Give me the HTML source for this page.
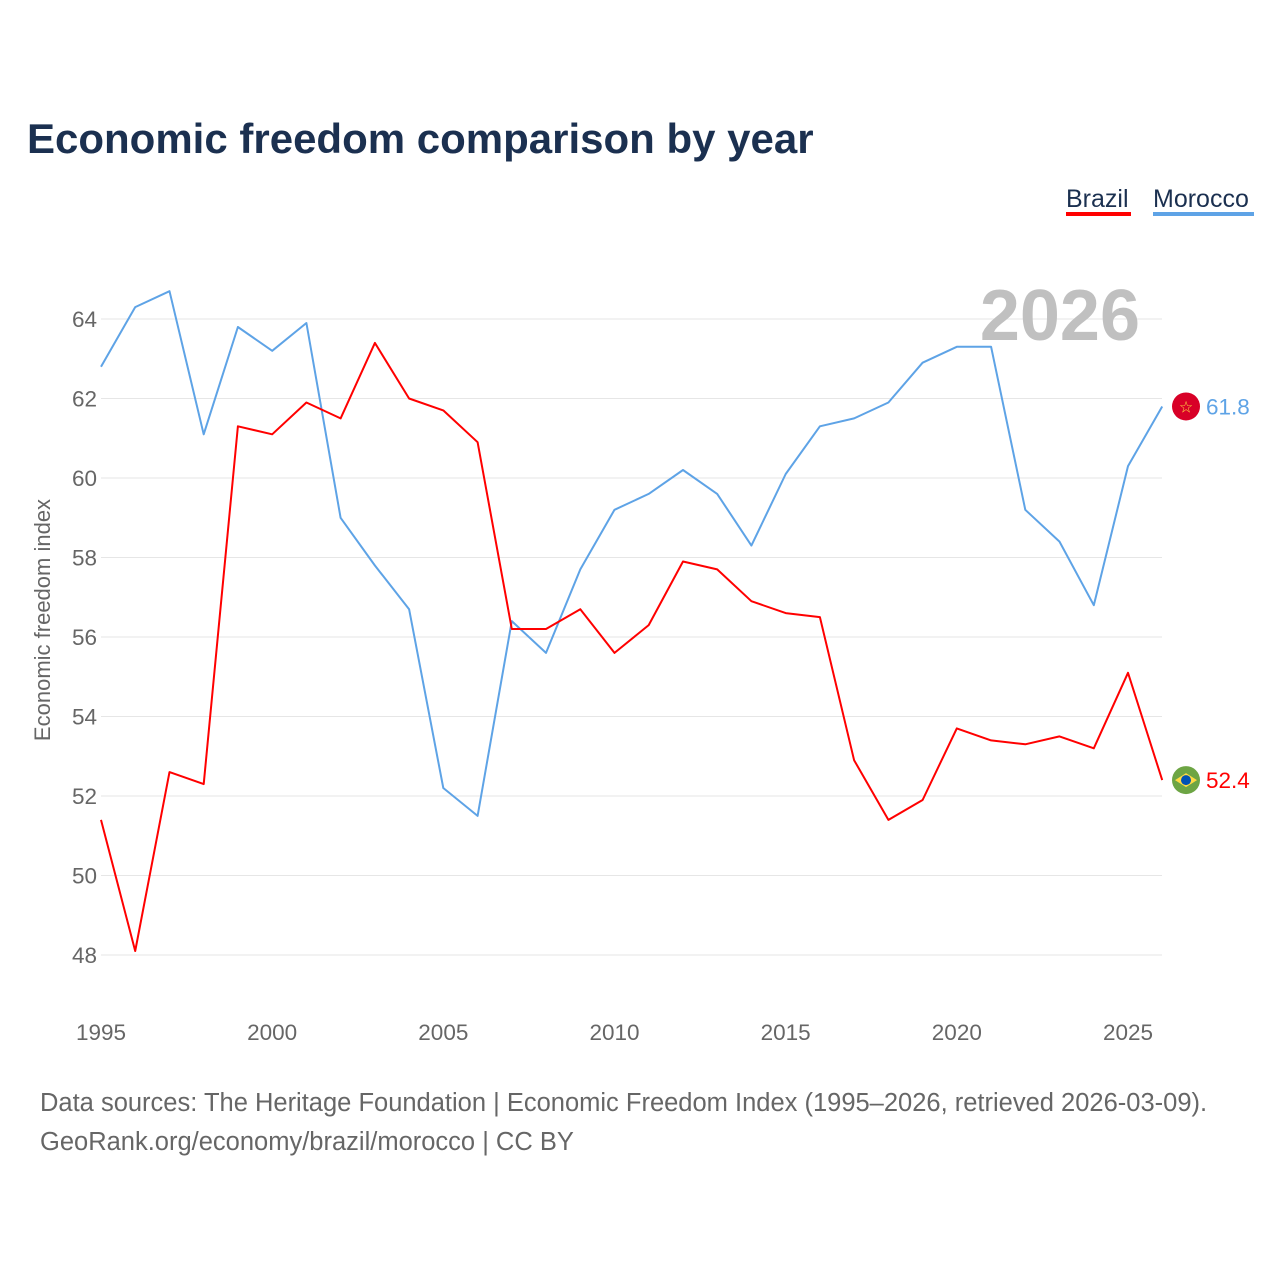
<!DOCTYPE html>
<html><head><meta charset="utf-8"><style>
body{margin:0;background:#fff;font-family:"Liberation Sans",sans-serif;}
#wrap{position:relative;width:1280px;height:1280px;}
</style></head><body>
<div id="wrap">
<svg id="chart" width="1280" height="1280"></svg>
</div>
<script>
const years=[1995,1996,1997,1998,1999,2000,2001,2002,2003,2004,2005,2006,2007,2008,2009,2010,2011,2012,2013,2014,2015,2016,2017,2018,2019,2020,2021,2022,2023,2024,2025,2026];
const brazil=[51.4,48.1,52.6,52.3,61.3,61.1,61.9,61.5,63.4,62.0,61.7,60.9,56.2,56.2,56.7,55.6,56.3,57.9,57.7,56.9,56.6,56.5,52.9,51.4,51.9,53.7,53.4,53.3,53.5,53.2,55.1,52.4];
const morocco=[62.8,64.3,64.7,61.1,63.8,63.2,63.9,59.0,57.8,56.7,52.2,51.5,56.4,55.6,57.7,59.2,59.6,60.2,59.6,58.3,60.1,61.3,61.5,61.9,62.9,63.3,63.3,59.2,58.4,56.8,60.3,61.8];
const yTicks=[48,50,52,54,56,58,60,62,64];
const xTicks=[1995,2000,2005,2010,2015,2020,2025];
const NS="http://www.w3.org/2000/svg";
const svg=document.getElementById('chart');
const x=v=>101+(v-1995)*(1027/30);
const y=v=>955-(v-48)*39.75;
function mk(tag,attrs,txt){const e=document.createElementNS(NS,tag);for(const k in attrs)e.setAttribute(k,attrs[k]);if(txt!==undefined)e.textContent=txt;svg.appendChild(e);return e;}
let e;
e=mk('text',{x:27,y:153,'font-size':42,'font-weight':'bold',fill:'#1b3050'},'Economic freedom comparison by year');


yTicks.forEach(t=>{
 e=mk('line',{x1:101,x2:1162,y1:y(t),y2:y(t),stroke:'#e6e6e6','stroke-width':1});
 
 
 e=mk('text',{x:97,y:y(t)+8,'font-size':22.5,fill:'#666','text-anchor':'end'},String(t));
 
 
});
xTicks.forEach(t=>{
 e=mk('text',{x:x(t),y:1040,'font-size':22.5,fill:'#666','text-anchor':'middle'},String(t));
 
 
});
e=mk('text',{x:0,y:0,'font-size':22,fill:'#666','text-anchor':'middle',transform:'translate(50,620) rotate(-90)'},'Economic freedom index');


e=mk('text',{x:1140,y:340,'font-size':72,'font-weight':'bold',fill:'#c0c0c0','text-anchor':'end'},'2026');


function series(vals,color,name){
 const d=vals.map((v,i)=>(i?'L':'M')+x(years[i]).toFixed(1)+' '+y(v).toFixed(1)).join(' ');
 e=mk('path',{d:d,fill:'none',stroke:color,'stroke-width':2,'stroke-linejoin':'round'});
 
 
 const last=vals[vals.length-1];
 e=mk('circle',{cx:1186,cy:y(last),r:14,fill:name==='brazil'?'#6da544':'#d80027'});
 
 
 if(name==='brazil'){mk('path',{d:`M1175 ${y(last)} L1186 ${y(last)-7} L1197 ${y(last)} L1186 ${y(last)+7}Z`,fill:'#ffda44'});mk('circle',{cx:1186,cy:y(last),r:5,fill:'#0052b4'});}
 else mk('text',{x:1186,y:y(last)+6,'font-size':16,fill:'#ffda44','text-anchor':'middle'},'☆');
 e=mk('text',{x:1206,y:y(last)+8,'font-size':22.5,fill:color},last.toFixed(1));
 
 
}
series(morocco,'#5ea3e6','morocco');
series(brazil,'#ff0000','brazil');
e=mk('text',{x:1066,y:207,'font-size':25,fill:'#1b3050'},'Brazil');


mk('rect',{x:1066,y:212,width:65,height:4,fill:'#ff0000'});
e=mk('text',{x:1153,y:207,'font-size':25,fill:'#1b3050'},'Morocco');


mk('rect',{x:1153,y:212,width:101,height:4,fill:'#5ea3e6'});
e=mk('text',{x:40,y:1111,'font-size':25.5,fill:'#666'},'Data sources: The Heritage Foundation | Economic Freedom Index (1995–2026, retrieved 2026-03-09).');


e=mk('text',{x:40,y:1150,'font-size':25.5,fill:'#666'},'GeoRank.org/economy/brazil/morocco | CC BY');


</script>
</body></html>
